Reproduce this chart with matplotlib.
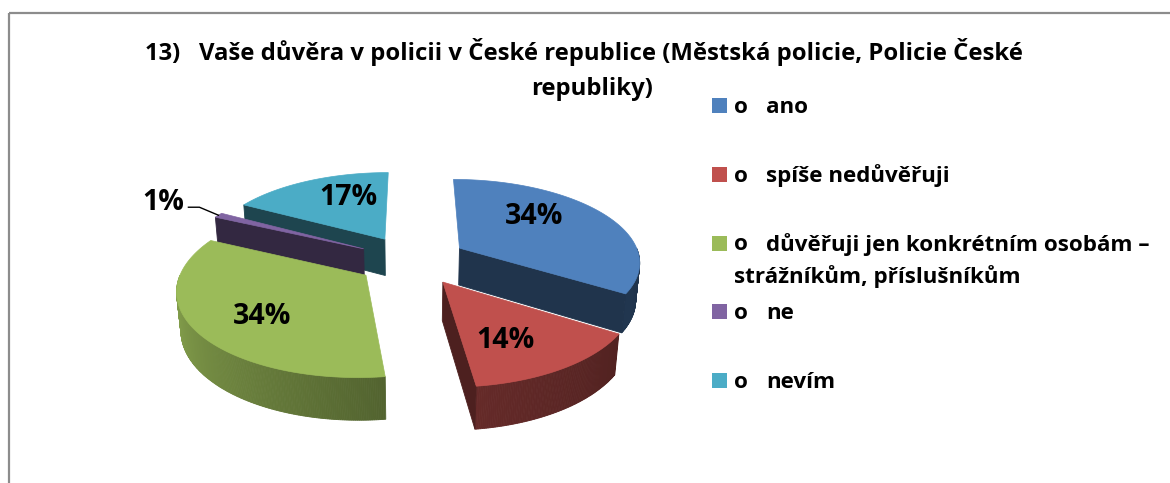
import numpy as np
import matplotlib
matplotlib.use('Agg')
import matplotlib.pyplot as plt
from matplotlib.patches import Polygon, Rectangle
from matplotlib.colors import to_rgb

# ---------------- data ----------------
categories = ['ano',
              'spíše nedůvěřuji',
              'důvěřuji jen konkrétním osobám –\nstrážníkům, příslušníkům',
              'ne',
              'nevím']
values = [34, 14, 34, 1, 17]
pct_labels = ['34%', '14%', '34%', '1%', '17%']
title = ('13)   Vaše důvěra v policii v České republice (Městská policie, Policie České\n'
         'republiky)')

# ---------------- style ----------------
colors = ['#4F81BD', '#C0504D', '#9BBB59', '#8064A2', '#4BACC6']
FONT = ['Open Sans', 'DejaVu Sans']
plt.rcParams['font.family'] = FONT
TITLE_FS = 17.2
LEG_FS = 16.1
PCT_FS = 20.5

W, H = 1170, 483
fig = plt.figure(figsize=(W / 100, H / 100), dpi=100)
ax = fig.add_axes([0, 0, 1, 1])
ax.set_xlim(0, W)
ax.set_ylim(H, 0)
ax.axis('off')

# chart frame
ax.add_patch(Rectangle((8.5, 12.5), W + 20, H + 20, fill=False,
                       edgecolor='#8c8c8c', linewidth=1.6, zorder=1))

# ---------------- 3D projection ----------------
CX, CY = 412, 260
K = 181
EL = np.radians(27)
D = 6.0
EXPLODE = 0.306
THICK = 0.236


def proj(x, y, z):
    x = np.atleast_1d(np.asarray(x, float))
    y = np.atleast_1d(np.asarray(y, float))
    z = np.atleast_1d(np.asarray(z, float)) * np.ones_like(x)
    dv = -y * np.cos(EL) + z * np.sin(EL)
    s = D / (D - dv)
    sx = CX + K * x * s
    sy = CY - K * (y * np.sin(EL) + z * np.cos(EL)) * s
    return np.column_stack([sx, sy])


def shade(c, f):
    r, g, b = to_rgb(c)
    return (r * f, g * f, b * f)


def wall_factor(theta_deg):
    t = np.mod(theta_deg, 360)
    return np.interp(t, [180, 280, 330, 360], [0.90, 0.52, 0.42, 0.40])


total = float(sum(values))
slices = []
start = 90.0
for i, v in enumerate(values):
    a2 = start
    a1 = start - v / total * 360.0
    start = a1
    mid = (a1 + a2) / 2
    ox = EXPLODE * np.cos(np.radians(mid))
    oy = EXPLODE * np.sin(np.radians(mid))
    cy_world = oy + 0.5 * np.sin(np.radians(mid))
    slices.append(dict(i=i, a1=a1, a2=a2, mid=mid, ox=ox, oy=oy, depth=cy_world))

# painter's order: farthest first
order = sorted(slices, key=lambda s: -s['depth'])
CUT_F = 0.40
z = 2
for s in order:
    i = s['i']
    c = colors[i]
    ox, oy = s['ox'], s['oy']
    a1, a2 = s['a1'], s['a2']
    n = max(int((a2 - a1) * 2), 4)
    th = np.linspace(a1, a2, n)
    tr = np.radians(th)
    rx = ox + np.cos(tr)
    ry = oy + np.sin(tr)
    # outer wall (front facing part)
    for k in range(n - 1):
        tm = 0.5 * (tr[k] + tr[k + 1])
        if np.sin(tm) < 0:
            top = proj(rx[k:k + 2], ry[k:k + 2], 0)
            bot = proj(rx[k:k + 2][::-1], ry[k:k + 2][::-1], -THICK)
            col = shade(c, wall_factor(np.degrees(tm)))
            ax.add_patch(Polygon(np.vstack([top, bot]), closed=True,
                                 facecolor=col, edgecolor=col, linewidth=0.6,
                                 zorder=z))
    # radial cut faces
    for a, vis in ((a1, np.cos(np.radians(a1)) > 0), (a2, np.cos(np.radians(a2)) < 0)):
        if vis:
            ar = np.radians(a)
            ex, ey = ox + np.cos(ar), oy + np.sin(ar)
            pts = np.vstack([proj(ox, oy, 0), proj(ex, ey, 0),
                             proj(ex, ey, -THICK), proj(ox, oy, -THICK)])
            col = shade(c, CUT_F)
            ax.add_patch(Polygon(pts, closed=True, facecolor=col, edgecolor=col,
                                 linewidth=0.6, zorder=z + 0.5))
    # top face
    pts = np.vstack([proj(ox, oy, 0), proj(rx, ry, 0)])
    ax.add_patch(Polygon(pts, closed=True, facecolor=c, edgecolor=c,
                         linewidth=0.5, zorder=z + 1))
    z += 2

# ---------------- percentage labels ----------------
LABEL_R = 0.55
LABEL_NUDGE = [(-6, -12), (0, 14), (-14, 12), (0, 0), (7, -8)]
for s in slices:
    i = s['i']
    mr = np.radians(s['mid'])
    if values[i] / total >= 0.03:
        p = proj(s['ox'] + LABEL_R * np.cos(mr), s['oy'] + LABEL_R * np.sin(mr), 0)[0]
        dx, dy = LABEL_NUDGE[i]
        ax.text(p[0] + dx, p[1] + dy, pct_labels[i], ha='center', va='center',
                fontsize=PCT_FS, fontweight='bold', color='black', zorder=50)
    else:
        p = proj(s['ox'] + np.cos(mr), s['oy'] + np.sin(mr), 0)[0]
        knee = (p[0] - 19, p[1] - 8)
        end = (p[0] - 30, p[1] - 8)
        ax.plot([p[0], knee[0], end[0]], [p[1], knee[1], end[1]],
                color='black', lw=1.0, zorder=50)
        ax.text(end[0] - 4, end[1] - 5, pct_labels[i], ha='right', va='center',
                fontsize=PCT_FS, fontweight='bold', color='black', zorder=50)

# ---------------- title ----------------
ax.text(584, 60, title.split('\n')[0], ha='center', va='baseline',
        fontsize=TITLE_FS, fontweight='bold', zorder=60)
ax.text(592, 95, title.split('\n')[1], ha='center', va='baseline',
        fontsize=TITLE_FS, fontweight='bold', zorder=60)

# ---------------- legend ----------------
LEG_SQ_X = 712
LEG_O_X = 734
LEG_TXT_X = 766
LEG_BASE0 = 113
LEG_DY = 68.75
for i, lab in enumerate(categories):
    yb = LEG_BASE0 + i * LEG_DY
    ax.add_patch(Rectangle((LEG_SQ_X, yb - 15), 15, 15, facecolor=colors[i],
                           edgecolor='none', zorder=60))
    ax.text(LEG_O_X, yb, 'o', ha='left', va='baseline', fontsize=LEG_FS,
            fontweight='bold', zorder=60)
    lines = lab.split('\n')
    ax.text(LEG_TXT_X, yb, lines[0], ha='left', va='baseline', fontsize=LEG_FS,
            fontweight='bold', zorder=60)
    for j, extra in enumerate(lines[1:]):
        ax.text(LEG_O_X, yb + 33 * (j + 1), extra, ha='left', va='baseline',
                fontsize=LEG_FS, fontweight='bold', zorder=60)

fig.savefig('out.png', dpi=100)
